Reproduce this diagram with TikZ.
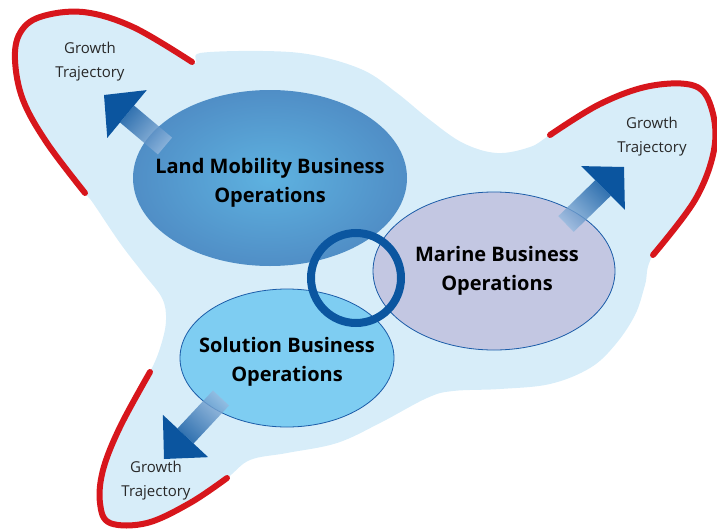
\documentclass[tikz,border=0pt]{standalone}
\usepackage{fontspec}
\setmainfont{Open Sans}
\usetikzlibrary{calc,shapes.geometric}
\definecolor{blobc}{RGB}{215,237,249}
\definecolor{redc}{RGB}{215,22,28}
\definecolor{landin}{RGB}{94,178,224}
\definecolor{landout}{RGB}{80,142,198}
\definecolor{marinec}{RGB}{195,199,226}
\definecolor{solc}{RGB}{126,205,242}
\definecolor{edgec}{RGB}{27,92,168}
\definecolor{ringc}{RGB}{11,86,160}
\definecolor{arrowdark}{RGB}{11,85,159}
\definecolor{arrowlight}{RGB}{150,185,222}
\definecolor{growc}{RGB}{40,40,40}
\begin{document}
\begin{tikzpicture}[x=1pt,y=-1pt,
  redarc/.style={draw=redc,line width=6pt,line cap=round},
  bizlabel/.style={font=\bfseries\fontsize{20}{29}\selectfont,align=center,text=black},
  growlabel/.style={font=\fontsize{15}{24}\selectfont,align=center,text=growc},
  headc/.style={fill=arrowdark},
  bizell/.style={ellipse,inner sep=0pt}]
\useasboundingbox (0,0) rectangle (717,530);
% background blob
\fill[blobc] plot[smooth cycle,tension=0.6] coordinates {
 (200,53) (263,51) (313,55) (363,70) (397,93) (430,120) (463,143) (497,153)
 (530,147) (550,135) (600,104) (650,86) (695,86) (712,110) (714,150) (695,200)
 (653,255) (645,285) (635,315) (615,345) (590,368) (550,384) (500,389) (453,391)
 (427,398) (380,423) (337,443) (287,453) (250,460) (227,478) (190,503) (147,523)
 (110,523) (100,503) (103,470) (120,427) (150,372) (161,345) (166,320) (162,298)
 (143,273) (120,243) (93,203) (85,193) (47,143) (23,100) (15,60) (20,33) (40,17)
 (83,12) (133,27) (192,62)};
% red arcs
\draw[redarc] plot[smooth,tension=0.6] coordinates {(192,62) (133,27) (83,12) (40,17) (20,33) (15,60) (23,100) (47,143) (85,193)};
\draw[redarc] plot[smooth,tension=0.6] coordinates {(550,135) (600,104) (650,86) (695,86) (712,110) (714,150) (695,200) (653,255)};
\draw[redarc] plot[smooth,tension=0.6] coordinates {(227,478) (190,503) (147,523) (110,523) (100,503) (103,470) (120,427) (150,372)};
% ellipses
\node[bizell,shade,inner color=landin,outer color=landout,minimum width=274pt,minimum height=176pt] (land) at (270,178) {};
\node[bizell,draw=edgec,line width=0.8pt,fill=solc,minimum width=214pt,minimum height=138pt] (sol) at (287,358) {};
\node[bizell,draw=edgec,line width=0.8pt,fill=marinec,minimum width=242pt,minimum height=158pt] (marine) at (494,271) {};
% ring
\node[circle,draw=ringc,line width=8pt,minimum size=90pt,inner sep=0pt] (ring) at (356,278) {};
% arrows: base mid (b), tip (t), tail (e)
\coordinate (b1) at (127,114); \coordinate (t1) at (104,95); \coordinate (e1) at (165,146);
\coordinate (b2) at (603,188); \coordinate (t2) at (624,167); \coordinate (e2) at (566,224);
\coordinate (b3) at (185.5,436); \coordinate (t3) at (164,459); \coordinate (e3) at (221,398);
\shade[top color=arrowdark,bottom color=arrowlight,shading angle=50,opacity=0.8]
  ($(b1)!11pt!90:(t1)$) -- ($(b1)!11pt!-90:(t1)$) -- ($(e1)!11pt!-90:(b1)$) -- ($(e1)!11pt!90:(b1)$) -- cycle;
\shade[top color=arrowdark,bottom color=arrowlight,shading angle=-45.6,opacity=0.8]
  ($(b2)!11pt!90:(t2)$) -- ($(b2)!11pt!-90:(t2)$) -- ($(e2)!11pt!-90:(b2)$) -- ($(e2)!11pt!90:(b2)$) -- cycle;
\shade[top color=arrowdark,bottom color=arrowlight,shading angle=137,opacity=0.8]
  ($(b3)!11pt!90:(t3)$) -- ($(b3)!11pt!-90:(t3)$) -- ($(e3)!11pt!-90:(b3)$) -- ($(e3)!11pt!90:(b3)$) -- cycle;
\fill[headc] (t1) -- ($(b1)!31pt!90:(t1)$) -- ($(b1)!31pt!-90:(t1)$) -- cycle;
\fill[headc] (t2) -- ($(b2)!31pt!90:(t2)$) -- ($(b2)!31pt!-90:(t2)$) -- cycle;
\fill[headc] (t3) -- ($(b3)!31pt!90:(t3)$) -- ($(b3)!31pt!-90:(t3)$) -- cycle;
% labels
\node[bizlabel] (landtxt) at (270,183) {Land Mobility Business\\Operations};
\node[bizlabel] (marinetxt) at (497,271) {Marine Business\\Operations};
\node[bizlabel] (soltxt) at (287,362) {Solution Business\\Operations};
\node[growlabel] (g1) at (90,62) {Growth\\Trajectory};
\node[growlabel] (g2) at (652,137) {Growth\\Trajectory};
\node[growlabel] (g3) at (156,481) {Growth\\Trajectory};
\end{tikzpicture}
\end{document}
